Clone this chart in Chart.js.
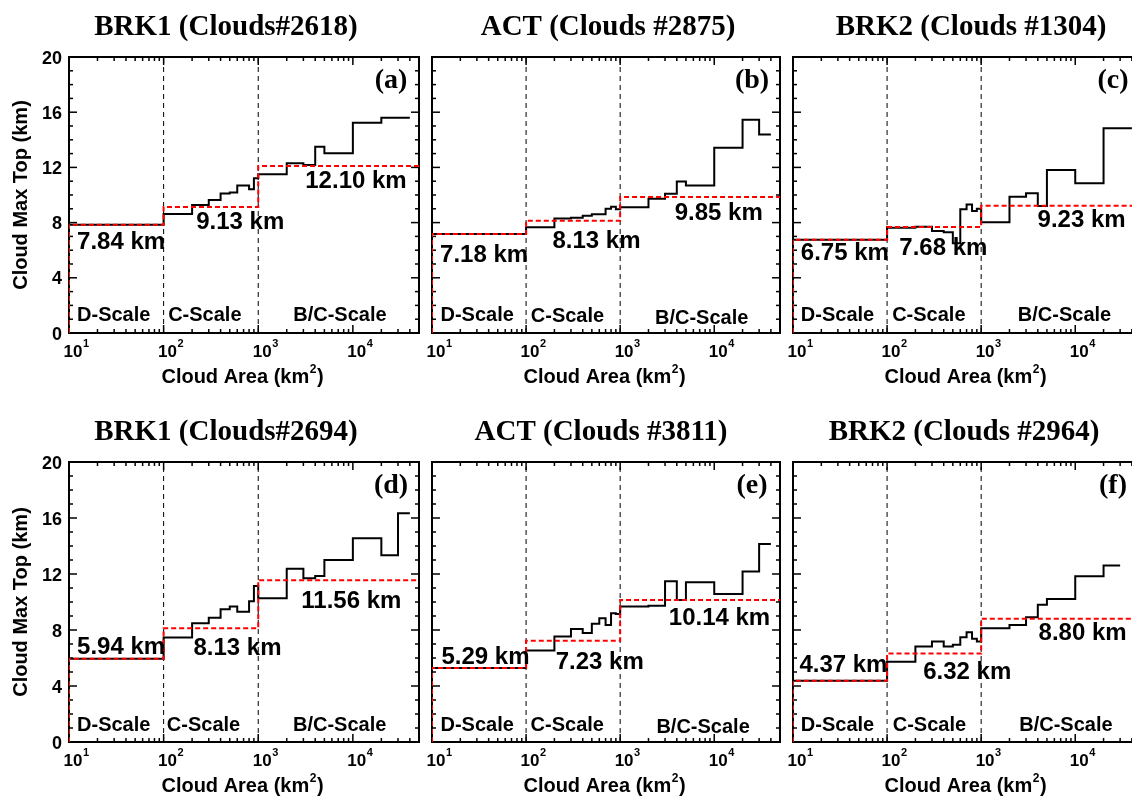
<!DOCTYPE html>
<html>
<head>
<meta charset="utf-8">
<title>Cloud max top vs cloud area</title>
<script src="https://cdn.jsdelivr.net/npm/chart.js@4.4.1/dist/chart.umd.min.js"></script>
<style>
  html, body { margin: 0; padding: 0; background: #fff; overflow: hidden; }
  #wrap { position: relative; width: 1132px; height: 797px; overflow: hidden; }
  #wrap canvas { position: absolute; left: 0; top: 0; }
</style>
</head>
<body>
<div id="wrap"></div>
<script>
// cloud-area bin edges (km^2), shared by all six panels
const areaEdges = [10, 100, 200, 300, 400, 500, 600, 700, 800, 900,
                   1000, 2000, 3000, 4000, 5000, 10000, 20000, 30000, 40000];
// D / C / B-C scale boundaries (last one is the axis maximum)
const scaleEdges = [10, 100, 1000, 50000];
const scaleNames = ['D-Scale', 'C-Scale', 'B/C-Scale'];

const xTickPowers = [1, 2, 3, 4];
const yTicks = [0, 4, 8, 12, 16, 20];

// max cloud top (km) in each area bin
const topBRK1a = [7.84, 8.62, 9.28, 9.64, 10.10, 10.19, 10.68, 10.68, 10.41, 11.21,
                  11.50, 12.30, 12.17, 13.50, 13.02, 15.24, 15.60, 15.60];
const topACTb  = [7.18, 7.67, 8.30, 8.36, 8.50, 8.61, 8.61, 9.00, 9.14, 8.97,
                  9.12, 9.72, 10.09, 10.98, 10.69, 13.42, 15.45, 14.39];
const topBRK2c = [6.75, 7.63, 7.70, 7.39, 7.30, 6.50, 8.96, 9.32, 8.84, 9.00,
                  8.02, 9.88, 10.12, 9.20, 11.81, 10.85, 14.83, 14.83];
const topBRK1d = [5.94, 7.46, 8.48, 8.88, 9.48, 9.67, 9.30, 9.30, 10.05, 11.14,
                  10.26, 12.38, 11.69, 11.86, 13.00, 14.55, 13.34, 16.34];
const topACTe  = [5.29, 6.53, 7.53, 8.08, 7.79, 8.44, 8.84, 8.36, 9.20, 9.15,
                  9.67, 9.74, 11.48, 10.15, 11.41, 10.58, 12.17, 14.15];
const topBRK2f = [4.37, 5.74, 6.82, 7.17, 6.82, 6.94, 7.49, 7.84, 7.37, 7.17,
                  8.13, 8.36, 8.91, 9.81, 10.22, 11.84, 12.60, null];

// mean max top for the D, C and B/C scales
const meanBRK1a = [7.84, 9.13, 12.10];
const meanACTb  = [7.18, 8.13, 9.85];
const meanBRK2c = [6.75, 7.68, 9.23];
const meanBRK1d = [5.94, 8.13, 11.56];
const meanACTe  = [5.29, 7.23, 10.14];
const meanBRK2f = [4.37, 6.32, 8.80];

const W = 1160, H = 797;
const SANS = '"Liberation Sans", Arial, sans-serif';
const SERIF = '"Liberation Serif", "Times New Roman", serif';

// plot rectangles and label anchors (log10 area, km)
const panels = [
  { rect: [69, 57, 419, 333], title: 'BRK1 (Clouds#2618)', titleX: 226, letter: '(a)',
    top: topBRK1a, mean: meanBRK1a, yAxis: true,
    meanAt: [[1.085, 6.74], [2.344, 8.19], [3.497, 11.16]],
    scaleAt: [[1.085, 1.38], [2.048, 1.38], [3.37, 1.38]] },
  { rect: [432, 57, 780, 333], title: 'ACT (Clouds #2875)', titleX: 608, letter: '(b)',
    top: topACTb, mean: meanACTb, yAxis: false,
    meanAt: [[1.086, 5.78], [2.28, 6.79], [3.58, 8.79]],
    scaleAt: [[1.09, 1.38], [2.05, 1.33], [3.37, 1.14]] },
  { rect: [793, 57, 1141, 333], title: 'BRK2 (Clouds #1304)', titleX: 971, letter: '(c)',
    top: topBRK2c, mean: meanBRK2c, yAxis: false,
    meanAt: [[1.083, 5.89], [2.13, 6.25], [3.60, 8.31]],
    scaleAt: [[1.083, 1.38], [2.054, 1.38], [3.39, 1.38]] },
  { rect: [69, 462, 419, 742], title: 'BRK1 (Clouds#2694)', titleX: 226, letter: '(d)',
    top: topBRK1d, mean: meanBRK1d, yAxis: true,
    meanAt: [[1.085, 6.93], [2.315, 6.81], [3.455, 10.19]],
    scaleAt: [[1.085, 1.33], [2.034, 1.33], [3.367, 1.33]] },
  { rect: [432, 462, 780, 742], title: 'ACT (Clouds #3811)', titleX: 601, letter: '(e)',
    top: topACTe, mean: meanACTe, yAxis: false,
    meanAt: [[1.10, 6.21], [2.315, 5.86], [3.517, 9.0]],
    scaleAt: [[1.09, 1.33], [2.048, 1.29], [3.385, 1.14]] },
  { rect: [793, 462, 1141, 742], title: 'BRK2 (Clouds #2964)', titleX: 964, letter: '(f)',
    top: topBRK2f, mean: meanBRK2f, yAxis: false,
    meanAt: [[1.068, 5.62], [2.384, 5.09], [3.61, 7.88]],
    scaleAt: [[1.083, 1.33], [2.06, 1.33], [3.405, 1.33]] }
];

// one point per bin start plus the closing edge; drawn as a step line
function stepPoints(vals) {
  const pts = [];
  let last = -1;
  vals.forEach((v, i) => {
    if (v != null) { pts.push({ x: areaEdges[i], y: v }); last = i; }
  });
  pts.push({ x: areaEdges[last + 1], y: vals[last] });
  return pts;
}

function meanPoints(m) {
  return [
    { x: scaleEdges[0], y: 0 },
    { x: scaleEdges[0], y: m[0] },
    { x: scaleEdges[1], y: m[1] },
    { x: scaleEdges[2], y: m[2] },
    { x: scaleEdges[3], y: m[2] }
  ];
}

function seg(ctx, x1, y1, x2, y2) {
  ctx.beginPath();
  ctx.moveTo(x1, y1);
  ctx.lineTo(x2, y2);
  ctx.stroke();
}

function makeDecor(p) {
  return {
    id: 'decor',
    beforeDatasetsDraw(chart) {
      const { ctx, chartArea: a, scales: { x, y } } = chart;
      ctx.save();
      ctx.strokeStyle = '#000';
      ctx.lineWidth = 1.5;
      // inward ticks on all four sides
      for (let v = 1; v < 20; v++) {
        const py = y.getPixelForValue(v);
        const len = v % 4 === 0 ? 8 : 4;
        seg(ctx, a.left, py, a.left + len, py);
        seg(ctx, a.right, py, a.right - len, py);
      }
      for (let d = 10; d < scaleEdges[3]; d *= 10) {
        for (let k = 1; k <= 9; k++) {
          const v = d * k;
          if (v <= scaleEdges[0] || v >= scaleEdges[3]) continue;
          const px = x.getPixelForValue(v);
          const len = k === 1 ? 8 : 4;
          seg(ctx, px, a.bottom, px, a.bottom - len);
          seg(ctx, px, a.top, px, a.top + len);
        }
      }
      ctx.lineWidth = 2;
      ctx.strokeRect(a.left, a.top, a.right - a.left, a.bottom - a.top);
      ctx.restore();
    },
    afterDatasetsDraw(chart) {
      const { ctx, chartArea: a, scales: { x, y } } = chart;
      ctx.save();
      ctx.fillStyle = '#000';
      ctx.textBaseline = 'alphabetic';

      // panel title
      ctx.font = 'bold 29px ' + SERIF;
      ctx.textAlign = 'center';
      ctx.fillText(p.title, p.titleX, a.top - 22);

      // panel letter
      ctx.font = 'bold 28px ' + SERIF;
      ctx.fillText(p.letter, a.right - 28, a.top + 31);

      // y tick labels and title on the left column only
      if (p.yAxis) {
        ctx.font = 'bold 18px ' + SANS;
        ctx.textAlign = 'right';
        yTicks.forEach(t => ctx.fillText(String(t), a.left - 7, y.getPixelForValue(t) + 6.5));
        ctx.save();
        ctx.translate(27, (a.top + a.bottom) / 2);
        ctx.rotate(-Math.PI / 2);
        ctx.font = 'bold 20px ' + SANS;
        ctx.textAlign = 'center';
        ctx.fillText('Cloud Max Top (km)', 0, 0);
        ctx.restore();
      }

      // x tick labels 10^n
      ctx.textAlign = 'left';
      xTickPowers.forEach(n => {
        const px = x.getPixelForValue(Math.pow(10, n));
        ctx.font = 'bold 17px ' + SANS;
        ctx.fillText('10', px - 5.5, a.bottom + 24);
        const w = ctx.measureText('10').width;
        ctx.font = 'bold 11px ' + SANS;
        ctx.fillText(String(n), px - 5 + w, a.bottom + 14);
      });

      // x axis title with superscript
      const cx = (a.left + a.right) / 2 - 2;
      const by = a.bottom + 50;
      ctx.font = 'bold 20px ' + SANS;
      const t1 = 'Cloud Area (km', t3 = ')';
      const w1 = ctx.measureText(t1).width, w3 = ctx.measureText(t3).width;
      ctx.font = 'bold 12px ' + SANS;
      const w2 = ctx.measureText('2').width;
      let sx = cx - (w1 + w2 + w3) / 2;
      ctx.font = 'bold 20px ' + SANS;
      ctx.fillText(t1, sx, by);
      ctx.font = 'bold 12px ' + SANS;
      ctx.fillText('2', sx + w1 + 0.5, by - 10);
      ctx.font = 'bold 20px ' + SANS;
      ctx.fillText(t3, sx + w1 + w2 + 1, by);

      // mean values per scale
      ctx.font = 'bold 24px ' + SANS;
      p.mean.forEach((m, i) => {
        const [lx, ly] = p.meanAt[i];
        ctx.fillText(m.toFixed(2) + ' km', x.getPixelForValue(Math.pow(10, lx)), y.getPixelForValue(ly) + 8.6);
      });

      // scale names
      ctx.font = 'bold 20px ' + SANS;
      scaleNames.forEach((s, i) => {
        const [lx, ly] = p.scaleAt[i];
        ctx.fillText(s, x.getPixelForValue(Math.pow(10, lx)), y.getPixelForValue(ly) + 7.2);
      });
      ctx.restore();
    }
  };
}

const wrap = document.getElementById('wrap');
panels.forEach(p => {
  const cv = document.createElement('canvas');
  cv.width = W;
  cv.height = H;
  cv.style.width = W + 'px';
  cv.style.height = H + 'px';
  wrap.appendChild(cv);
  const r = p.rect;
  new Chart(cv.getContext('2d'), {
    type: 'line',
    data: {
      datasets: [
        { data: meanPoints(p.mean), borderColor: '#ff0000', borderWidth: 2,
          borderDash: [5, 3], stepped: 'before', pointRadius: 0, fill: false },
        { data: stepPoints(p.top), borderColor: '#000000', borderWidth: 2,
          stepped: 'before', pointRadius: 0, fill: false },
        { data: [{ x: scaleEdges[1], y: 0 }, { x: scaleEdges[1], y: 20 }],
          borderColor: '#000000', borderWidth: 1, borderDash: [5, 4], pointRadius: 0 },
        { data: [{ x: scaleEdges[2], y: 0 }, { x: scaleEdges[2], y: 20 }],
          borderColor: '#000000', borderWidth: 1, borderDash: [5, 4], pointRadius: 0 }
      ]
    },
    options: {
      responsive: false,
      animation: false,
      events: [],
      layout: { padding: { left: r[0], top: r[1], right: W - r[2], bottom: H - r[3] } },
      plugins: { legend: { display: false }, tooltip: { enabled: false } },
      scales: {
        x: { type: 'logarithmic', min: scaleEdges[0], max: scaleEdges[3], display: false },
        y: { type: 'linear', min: 0, max: 20, display: false }
      }
    },
    plugins: [makeDecor(p)]
  });
});
</script>
</body>
</html>
